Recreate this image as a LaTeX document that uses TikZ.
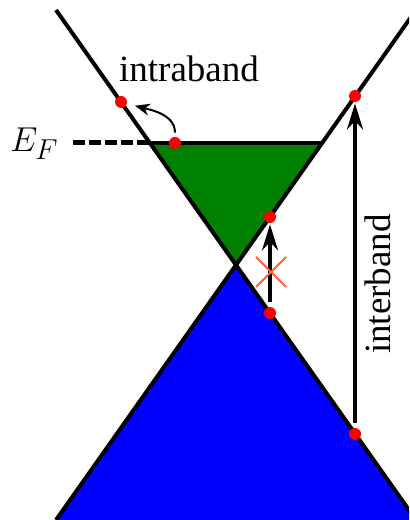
\documentclass[tikz,border=0pt]{standalone}
\usepackage{fontspec}
\setmainfont{Liberation Serif}
\usetikzlibrary{arrows.meta, shapes.misc}
\definecolor{fermigreen}{RGB}{0,128,0}
\definecolor{blockorange}{RGB}{255,99,51}

\begin{document}
\begin{tikzpicture}[>=Stealth, x=0.5pt, y=0.5pt,
  band/.style={line width=2pt},
  dot/.style={circle, fill=red, inner sep=0pt, minimum size=6pt},
  jump/.style={-{Stealth[length=13pt,width=8pt]}, line width=2pt, shorten <=2.5pt, shorten >=0.5pt},
  lbl/.style={font=\fontsize{18.5}{22}\selectfont, inner sep=0pt}]
  \useasboundingbox (0,0) rectangle (409,520);
  \clip (0,0) rectangle (409,520);
  \coordinate (D) at (236,255);
  \coordinate (Fl) at (150,377);
  \coordinate (Fr) at (322,377);
  % filled states
  \fill[blue] (56,0) -- (D) -- (416,0) -- cycle;
  \fill[fermigreen] (Fl) -- (D) -- (Fr) -- cycle;
  % cones
  \draw[band] (56,510) -- (416,0);
  \draw[band] (56,0) -- (416,510);
  \draw[band] (Fl) -- (Fr);
  % Fermi level
  \node[anchor=base west, inner sep=0pt, font=\fontsize{19}{22}\selectfont] (EF) at (10,368) {$E_F$};
  \draw[line width=2.5pt, dash pattern=on 6pt off 2pt, shorten <=7pt] (EF.east |- Fl) -- (Fl);
  % intraband
  \node[dot] (ia) at (175,377) {};
  \node[dot] (ib) at (121,418) {};
  \draw[-{Stealth[length=7.5pt,width=6pt]}, line width=1pt, shorten <=2pt, shorten >=4pt] (ia) to[out=90, in=-15] (ib);
  \node[lbl, anchor=base] (intra) at (189,438) {intraband};
  % blocked transition
  \node[dot] (lo) at (270,207) {};
  \node[dot] (up) at (270,303) {};
  \draw[jump] (lo) -- (up);
  \node[draw=blockorange, cross out, line width=1pt, inner sep=0pt, minimum size=14pt] (block) at (271,248) {};
  % interband
  \node[dot] (ev) at (355,86) {};
  \node[dot] (ec) at (355,424) {};
  \draw[jump] (ev) -- (ec);
  \node[lbl, anchor=base, rotate=90] (inter) at (390,236) {interband};
\end{tikzpicture}
\end{document}
